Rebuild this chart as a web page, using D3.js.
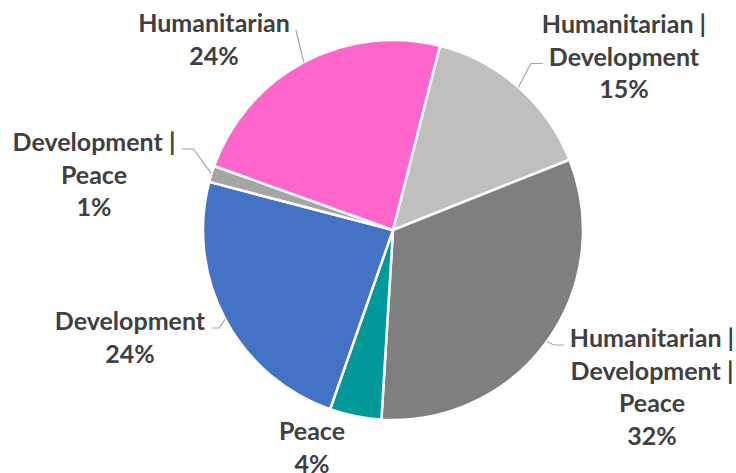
<!DOCTYPE html>
<html>
<head>
<meta charset="utf-8">
<script src="https://cdn.jsdelivr.net/npm/d3@7"></script>
<style>
  html, body { margin: 0; padding: 0; background: #fff; }
  svg { display: block; }
</style>
</head>
<body>
<div id="chart"></div>
<script>
// slice order = clockwise, starting a little right of 12 o'clock
const categories = ["Humanitarian | Development", "Humanitarian | Development | Peace", "Peace", "Development", "Development | Peace", "Humanitarian"];
const shares = [15.0, 32.0, 4.4, 23.7, 1.4, 23.5];
const colors = ["#bfbfbf", "#7f7f7f", "#009999", "#4472c4", "#a5a5a5", "#ff66cc"];

// where Excel left each label: centre x, first baseline, which line the leader hits, leader elbow length
const labelLayout = [
    { x: 624, y: 33, line: 1, h: 12 },
    { x: 652, y: 347, line: 0, h: 10 },
    { x: 312, y: 440, line: null, h: 0 },
    { x: 130, y: 330, line: 0, h: 8 },
    { x: 94, y: 151, line: 0, h: 12 },
    { x: 214, y: 32, line: 0, h: 0 }
];

const width = 736;
const height = 473;
const cx = 393;
const cy = 230;
const radius = 190;
const lineHeight = 32.5;
const startDeg = 14.3;

const svg = d3.select("#chart")
    .append("svg")
    .attr("width", width)
    .attr("height", height)
    .attr("viewBox", [0, 0, width, height]);

const pie = d3.pie()
    .sort(null)
    .value(d => d)
    .startAngle(startDeg * Math.PI / 180)
    .endAngle(startDeg * Math.PI / 180 + 2 * Math.PI);

const arcs = pie(shares);
const total = d3.sum(shares);

const arc = d3.arc().innerRadius(0).outerRadius(radius);

const g = svg.append("g").attr("transform", `translate(${cx},${cy})`);

// slices, white gaps between them
g.selectAll("path")
    .data(arcs)
    .join("path")
    .attr("d", arc)
    .attr("fill", (d, i) => colors[i])
    .attr("stroke", "#fff")
    .attr("stroke-width", 2.5)
    .attr("stroke-linejoin", "round");

// split names after each "|"
function wrap(name) {
    const parts = name.split(" | ");
    return parts.map((p, i) => i < parts.length - 1 ? p + " |" : p);
}

const labels = svg.append("g")
    .attr("font-family", "Lato, 'Open Sans', sans-serif")
    .attr("font-weight", "bold")
    .attr("font-size", "25px")
    .attr("fill", "#404040")
    .attr("text-anchor", "middle");

const leaders = svg.append("g")
    .attr("fill", "none")
    .attr("stroke", "#a6a6a6")
    .attr("stroke-width", 1.2);

arcs.forEach((d, i) => {
    const lay = labelLayout[i];
    const lines = wrap(categories[i]).concat([Math.round(d.value / total * 100) + "%"]);
    const nodes = lines.map((t, k) =>
        labels.append("text")
            .attr("x", lay.x)
            .attr("y", lay.y + k * lineHeight)
            .text(t)
            .node());

    if (lay.line === null) return;

    // leader starts on the rim at the slice's middle angle
    const mid = (d.startAngle + d.endAngle) / 2;
    const sx = cx + Math.sin(mid) * radius;
    const sy = cy - Math.cos(mid) * radius;
    const w = nodes[lay.line].getComputedTextLength();
    const side = sx > lay.x ? 1 : -1; // pie lies on this side of the label
    const ex = lay.x + side * (w / 2 + 6);
    const ey = lay.y + lay.line * lineHeight - 2;
    const bx = ex + side * lay.h;
    leaders.append("path")
        .attr("d", d3.line()([[sx, sy], [bx, ey], [ex, ey]]));
});
</script>
</body>
</html>
